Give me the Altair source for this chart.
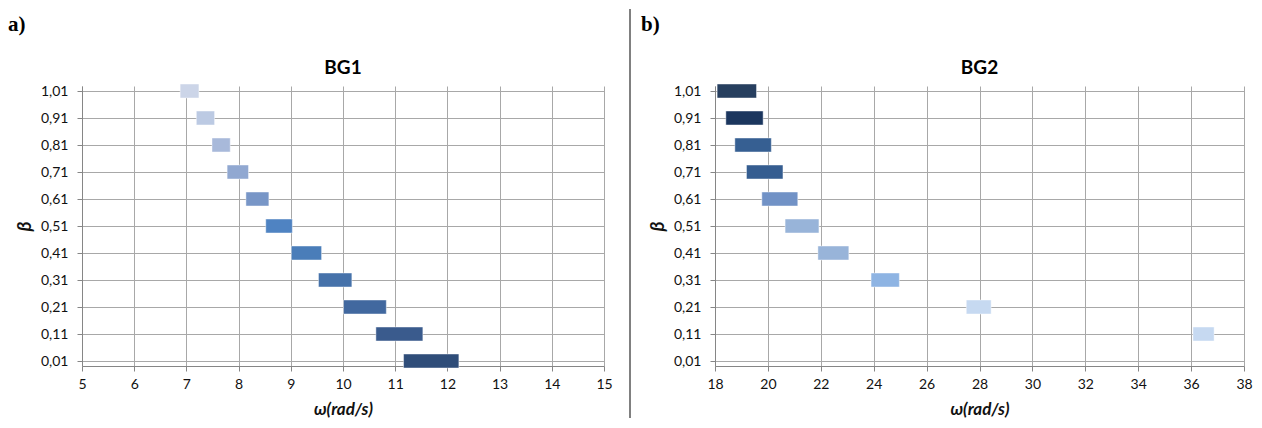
import altair as alt
import pandas as pd

# ---- data ----
beta_ticks = [0.01, 0.11, 0.21, 0.31, 0.41, 0.51, 0.61, 0.71, 0.81, 0.91, 1.01]

bg1_beta = [1.01, 0.91, 0.81, 0.71, 0.61, 0.51, 0.41, 0.31, 0.21, 0.11, 0.01]
bg1_start = [6.88, 7.19, 7.49, 7.78, 8.14, 8.52, 9.01, 9.53, 10.01, 10.63, 11.16]
bg1_end = [7.24, 7.54, 7.84, 8.19, 8.58, 9.03, 9.59, 10.17, 10.83, 11.53, 12.22]
bg1_color = ["#ccd5e8", "#bccae3", "#a8b9da", "#91a8d1", "#7896c7", "#4f83c2",
             "#4a7db9", "#4672aa", "#41689f", "#3a5b8d", "#2f4d79"]
bg1_xticks = [5, 6, 7, 8, 9, 10, 11, 12, 13, 14, 15]

bg2_beta = [1.01, 0.91, 0.81, 0.71, 0.61, 0.51, 0.41, 0.31, 0.21, 0.11]
bg2_start = [18.08, 18.41, 18.75, 19.19, 19.77, 20.65, 21.89, 23.90, 27.50, 36.07]
bg2_end = [19.57, 19.82, 20.13, 20.57, 21.13, 21.93, 23.06, 24.97, 28.44, 36.87]
bg2_color = ["#273f5f", "#1b365e", "#365f92", "#355d90", "#7192c6", "#98b4d9",
             "#98b4d9", "#8eb4e3", "#c6d9f1", "#c6d9f1"]
bg2_xticks = [18, 20, 22, 24, 26, 28, 30, 32, 34, 36, 38]

H = 280
FONT = "Lato"
TXT = "#111111"


def panel(beta, start, end, colors, xticks, width, letter, title, divider=False):
    df = pd.DataFrame({"beta": beta, "start": start, "end": end, "color": colors})
    bars = alt.Chart(df).mark_bar(
        size=14, orient="horizontal", stroke="white", strokeOpacity=0.45, strokeWidth=1
    ).encode(
        x=alt.X("start:Q",
                scale=alt.Scale(domain=[xticks[0], xticks[-1]], nice=False, zero=False),
                axis=alt.Axis(values=xticks, title="ω(rad/s)", titleY=43,
                              titleBaseline="middle", labelPadding=6, tickSize=5,
                              labelFlush=False)),
        x2="end:Q",
        y=alt.Y("beta:Q",
                scale=alt.Scale(domain=[0.01, 1.01], nice=False, zero=False),
                axis=alt.Axis(values=beta_ticks, title="β", titleX=-58, titleY=H / 2,
                              titleAngle=-90, titleAlign="center", titleBaseline="middle",
                              titleFontSize=19,
                              labelPadding=9, tickSize=5, labelFlush=False,
                              labelExpr="replace(format(datum.value, '.2f'), '.', ',')")),
        color=alt.Color("color:N", scale=None),
    )
    tdf = pd.DataFrame({"t": [letter]})
    letter_mark = alt.Chart(tdf).mark_text(
        font="Liberation Serif", fontWeight="bold", fontSize=21, align="left",
        baseline="middle", color="#000000"
    ).encode(x=alt.value(-74), y=alt.value(-61), text="t:N")
    ttl = alt.Chart(pd.DataFrame({"t": [title]})).mark_text(
        font=FONT, fontWeight="bold", fontSize=19, align="center",
        baseline="middle", color="#000000"
    ).encode(x=alt.value(width / 2), y=alt.value(-18), text="t:N")
    layers = [bars, letter_mark, ttl]
    if divider:
        rule = alt.Chart(pd.DataFrame({"d": [0]})).mark_rule(
            color="#808080", strokeWidth=2
        ).encode(x=alt.value(548), y=alt.value(-77), y2=alt.value(332))
        layers.append(rule)
    return alt.layer(*layers).properties(width=width, height=H)


left = panel(bg1_beta, bg1_start, bg1_end, bg1_color, bg1_xticks, 522, "a)", "BG1", divider=True)
right = panel(bg2_beta, bg2_start, bg2_end, bg2_color, bg2_xticks, 529, "b)", "BG2")

chart = alt.hconcat(left, right, spacing=111, bounds="flush").properties(
    padding=0
).configure_view(stroke=None).configure_axis(
    labelFont=FONT, labelFontSize=14, labelColor=TXT,
    titleFont=FONT, titleFontSize=17, titleFontWeight="bold", titleFontStyle="italic",
    titleColor=TXT, domainColor="#868686", tickColor="#868686",
    gridColor="#a8a8a8", gridWidth=1, domainWidth=1, tickWidth=1,
)

chart.save("out.html", embed_options={"renderer": "svg", "actions": False})
